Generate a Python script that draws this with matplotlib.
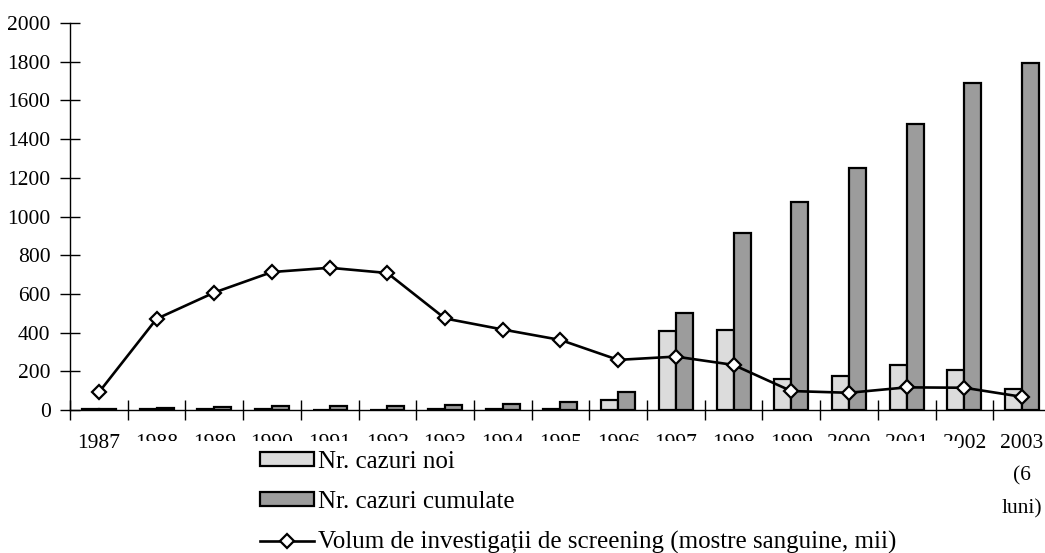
import matplotlib
matplotlib.use("Agg")
import matplotlib.pyplot as plt
from matplotlib.patches import Rectangle, Patch
from matplotlib.lines import Line2D
import numpy as np

# --- data -------------------------------------------------------------
years = ["1987", "1988", "1989", "1990", "1991", "1992", "1993", "1994",
         "1995", "1996", "1997", "1998", "1999", "2000", "2001", "2002",
         "2003\n(6\nluni)"]
new_cases = [6, 5, 5, 3, 0, 2, 4, 5, 7, 53, 409, 414, 158, 177, 234, 205, 108]
cumulative_cases = [7, 12, 17, 20, 21, 23, 27, 32, 40, 93, 502, 915, 1073,
                    1250, 1480, 1690, 1795]
screening_volume = [91, 471, 607, 713, 735, 708, 473, 416, 362, 259, 276,
                    233, 98, 89, 117, 115, 68]
y_ticks = [0, 200, 400, 600, 800, 1000, 1200, 1400, 1600, 1800, 2000]

label_new = "Nr. cazuri noi"
label_cum = "Nr. cazuri cumulate"
label_vol = "Volum de investigații de screening (mostre sanguine, mii)"

# --- style ------------------------------------------------------------
plt.rcParams["font.family"] = ["Liberation Serif", "DejaVu Serif"]
FS = 15.5
FS_LEG = 18
W, H = 1045, 553
fig = plt.figure(figsize=(W / 100, H / 100), dpi=100)

ax_left = 70 / W
ax_bottom = 1 - 410 / H
ax_height = (410 - 23) / H
cat_px = 57.7
ax_width = cat_px * len(years) / W
ax = fig.add_axes([ax_left, ax_bottom, ax_width, ax_height])

x = np.arange(len(years))
bw = 17 / cat_px
light = "#dcdcdc"
dark = "#9c9c9c"

ax.bar(x - bw / 2, new_cases, bw, color=light, edgecolor="black",
       linewidth=1.6, zorder=2)
ax.bar(x + bw / 2, cumulative_cases, bw, color=dark, edgecolor="black",
       linewidth=1.6, zorder=2)
ax.plot(x, screening_volume, color="black", linewidth=1.9, marker="D",
        markersize=7.2, markerfacecolor="white", markeredgecolor="black",
        markeredgewidth=1.6, zorder=3)

ax.set_xlim(-0.5, len(years) - 0.5)
ax.set_ylim(0, 2000)
ax.set_yticks(y_ticks)
ax.set_yticklabels([str(v) for v in y_ticks], fontsize=FS)

# category boundaries carry the tick marks, labels sit at the centres
ax.set_xticks(np.arange(-0.5, len(years), 1.0))
ax.set_xticklabels([])
ax.set_xticks(x, minor=True)
ax.set_xticklabels(years, minor=True, fontsize=FS, linespacing=1.95,
                   va="top")
ax.tick_params(axis="x", which="major", direction="inout", length=14,
               width=1.0, color="black")
ax.tick_params(axis="x", which="minor", length=0, pad=17)
ax.tick_params(axis="y", direction="inout", length=14, width=1.0,
               pad=7)

for s in ("top", "right"):
    ax.spines[s].set_visible(False)
for s in ("left", "bottom"):
    ax.spines[s].set_linewidth(1.0)
    ax.spines[s].set_color("black")

# white legend area lying over the lower part of the axis labels
fig.patches.append(Rectangle((130 / W, 0), (958 - 130) / W, 1 - 441 / H,
                             transform=fig.transFigure, facecolor="white",
                             edgecolor="none", zorder=5))

handles = [
    Patch(facecolor=light, edgecolor="black", linewidth=1.6),
    Patch(facecolor=dark, edgecolor="black", linewidth=1.6),
    Line2D([], [], color="black", linewidth=1.9, marker="D", markersize=7.2,
           markerfacecolor="white", markeredgecolor="black",
           markeredgewidth=1.6),
]
leg = fig.legend(handles, [label_new, label_cum, label_vol],
                 loc="upper left", bbox_to_anchor=(260 / W, 1 - 451 / H),
                 frameon=False, fontsize=FS_LEG, handlelength=2.15,
                 handleheight=0.45, handletextpad=0.15, labelspacing=0.72,
                 borderpad=0, borderaxespad=0)
leg.set_zorder(6)

fig.savefig("out.png", dpi=100)
